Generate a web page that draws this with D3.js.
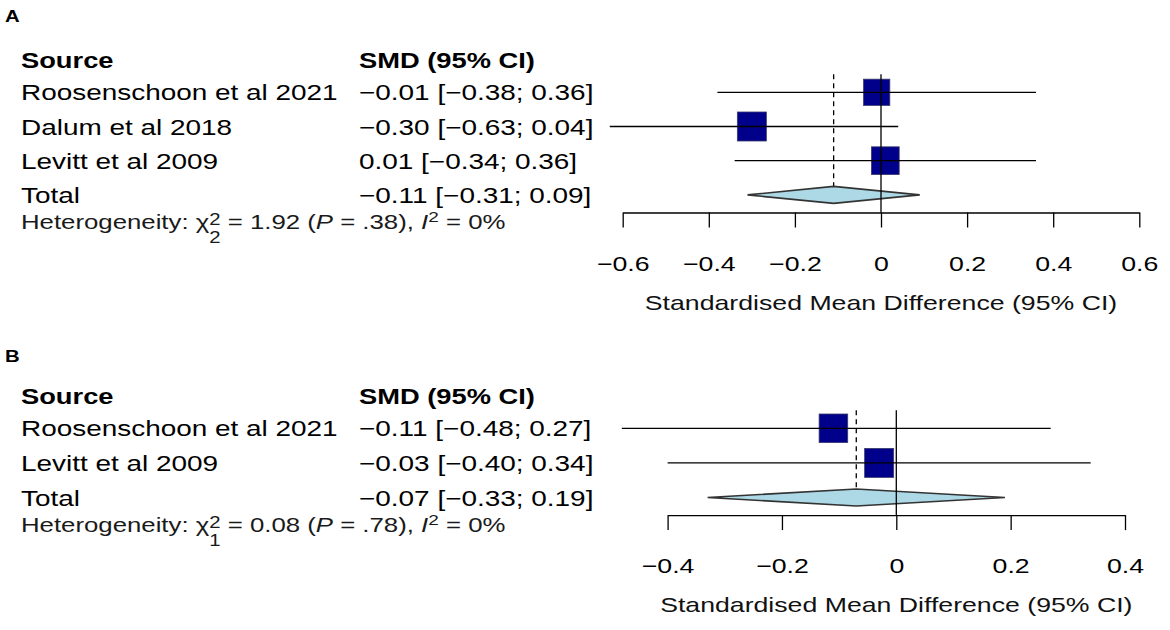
<!DOCTYPE html>
<html><head><meta charset="utf-8">
<script src="https://cdn.jsdelivr.net/npm/d3@7"></script>
<style>body{margin:0;background:#fff}</style>
</head><body>
<svg id="chart" width="1170" height="630"></svg>
<script>
// ---------- Data ----------
const studiesA = ["Roosenschoon et al 2021", "Dalum et al 2018", "Levitt et al 2009"];
const smdA     = [-0.01, -0.30, 0.01];
const lowerA   = [-0.38, -0.63, -0.34];
const upperA   = [0.36, 0.04, 0.36];
const weightA  = [30.0, 36.6, 33.5];
const totalA   = [-0.11, -0.31, 0.09];   // smd, lower, upper
const heteroA  = ["2", "1.92", ".38", "0"]; // df, chi2, P, I2
const ticksA   = [-0.6, -0.4, -0.2, 0, 0.2, 0.4, 0.6];

const studiesB = ["Roosenschoon et al 2021", "Levitt et al 2009"];
const smdB     = [-0.11, -0.03];
const lowerB   = [-0.48, -0.40];
const upperB   = [0.27, 0.34];
const weightB  = [49.3, 50.7];
const totalB   = [-0.07, -0.33, 0.19];
const heteroB  = ["1", "0.08", ".78", "0"];
const ticksB   = [-0.4, -0.2, 0, 0.2, 0.4];

const panelLabels = ["A", "B"];
const colHeaders = ["Source", "SMD (95% CI)"];
const totalLabel = "Total";
const xLabel = "Standardised Mean Difference (95% CI)";

// ---------- Drawing ----------
const S = 1.27; // horizontal text stretch of the original picture
const FONT = "'Liberation Sans', Arial, Helvetica, sans-serif";
const svg = d3.select("#chart").attr("font-family", FONT);

const fmt = d3.format(".2f");
function ciText(m, l, u) { return `${fmt(m)} [${fmt(l)}; ${fmt(u)}]`; }

function txt(g, x, y, s, size, opts = {}) {
  return g.append("text")
    .attr("transform", `translate(${x},${y}) scale(${S},1)`)
    .attr("font-size", size)
    .attr("fill", opts.fill || "#000")
    .attr("text-anchor", opts.anchor || "start")
    .attr("font-weight", opts.bold ? "bold" : "normal")
    .text(s);
}

function drawPanel(cfg) {
  const g = svg.append("g");
  const n = cfg.studies.length;
  const y = d3.scaleLinear().domain([0, 1]).range([cfg.row0, cfg.row0 + cfg.step]);
  const x = d3.scaleLinear().domain(d3.extent(cfg.ticks)).range(cfg.xRange);
  const size = d3.scaleSqrt().domain([0, d3.max(cfg.weight)]).range([0, 29]);
  const totalY = y(n);
  const axisY = totalY + 17.6;
  const dh = 8.5;

  txt(g, 5, cfg.letterY, cfg.letter, 16, {bold: true});
  txt(g, 21, cfg.row0 - 24.5, colHeaders[0], 21.5, {bold: true});
  txt(g, 359, cfg.row0 - 24.5, colHeaders[1], 21.5, {bold: true});
  cfg.studies.forEach((s, i) => {
    txt(g, 21, y(i) + 8, s, 22);
    txt(g, 359, y(i) + 8, ciText(cfg.smd[i], cfg.lower[i], cfg.upper[i]), 22);
  });
  txt(g, 21, totalY + 8, totalLabel, 22);
  txt(g, 359, totalY + 8, ciText(cfg.total[0], cfg.total[1], cfg.total[2]), 22);

  // heterogeneity
  const h = g.append("text")
    .attr("transform", `translate(21,${totalY + 34}) scale(${S},1)`)
    .attr("font-size", 20.3).attr("fill", "#1a1a1a");
  h.append("tspan").text("Heterogeneity: ");
  h.append("tspan").text("\u03C7");
  h.append("tspan").attr("font-size", 16).attr("dy", -4).text("2");
  h.append("tspan").attr("font-size", 16).attr("dx", -8.9).attr("dy", 18.5).text(cfg.hetero[0]);
  h.append("tspan").attr("dy", -14.5).text(` = ${cfg.hetero[1]} (`);
  h.append("tspan").attr("font-style", "italic").text("P");
  h.append("tspan").text(` = ${cfg.hetero[2]}), `);
  h.append("tspan").attr("font-style", "italic").text("I");
  h.append("tspan").attr("font-size", 15).attr("dy", -6.5).text("2");
  h.append("tspan").attr("dy", 6.5).text(` = ${cfg.hetero[3]}%`);

  // summary dashed line
  g.append("line")
    .attr("x1", x(cfg.total[0])).attr("x2", x(cfg.total[0]))
    .attr("y1", cfg.row0 - 18).attr("y2", totalY - dh)
    .attr("stroke", "#000").attr("stroke-width", 1.3)
    .attr("stroke-dasharray", "5,4");

  cfg.studies.forEach((s, i) => {
    const w = size(cfg.weight[i]);
    g.append("rect")
      .attr("x", x(cfg.smd[i]) - w / 2).attr("y", y(i) - w / 2)
      .attr("width", w).attr("height", w)
      .attr("fill", "#00008B").attr("stroke", "#3a3a6a").attr("stroke-width", 0.8);
  });
  cfg.studies.forEach((s, i) => {
    g.append("line")
      .attr("x1", x(cfg.lower[i])).attr("x2", x(cfg.upper[i]))
      .attr("y1", y(i)).attr("y2", y(i))
      .attr("stroke", "#000").attr("stroke-width", 1.3);
  });

  const pts = [[x(cfg.total[1]), totalY], [x(cfg.total[0]), totalY - dh],
               [x(cfg.total[2]), totalY], [x(cfg.total[0]), totalY + dh]];
  g.append("path").attr("d", d3.line()(pts) + "Z")
    .attr("fill", "#ADD8E6").attr("stroke", "#333").attr("stroke-width", 1.6);

  g.append("line")
    .attr("x1", x(0)).attr("x2", x(0))
    .attr("y1", cfg.row0 - 18).attr("y2", axisY)
    .attr("stroke", "#000").attr("stroke-width", 1.3);

  const ax = g.append("g").attr("transform", `translate(0,${axisY})`)
    .call(d3.axisBottom(x).tickValues(cfg.ticks).tickSize(15).tickSizeOuter(0)
      .tickFormat(d => d === 0 ? "0" : d3.format(".1f")(d)));
  ax.select(".domain").attr("stroke", "#000").attr("stroke-width", 1.3);
  ax.selectAll(".tick line").attr("stroke", "#000").attr("stroke-width", 1.3);
  ax.selectAll(".tick text")
    .attr("x", 0).attr("y", 0).attr("dy", null)
    .attr("transform", `translate(0,58) scale(${S},1)`)
    .attr("font-size", 21).attr("font-family", FONT).attr("fill", "#000");

  txt(g, (cfg.xRange[0] + cfg.xRange[1]) / 2, axisY + 97, xLabel, 21, {anchor: "middle", fill: "#111"});
}

drawPanel({letter: panelLabels[0], letterY: 21.7, row0: 92.3, step: 34.2, xRange: [622.7, 1139.3],
  studies: studiesA, smd: smdA, lower: lowerA, upper: upperA, weight: weightA,
  total: totalA, hetero: heteroA, ticks: ticksA});
drawPanel({letter: panelLabels[1], letterY: 361.7, row0: 428.3, step: 34.6, xRange: [667.6, 1125],
  studies: studiesB, smd: smdB, lower: lowerB, upper: upperB, weight: weightB,
  total: totalB, hetero: heteroB, ticks: ticksB});
</script>
</body></html>
